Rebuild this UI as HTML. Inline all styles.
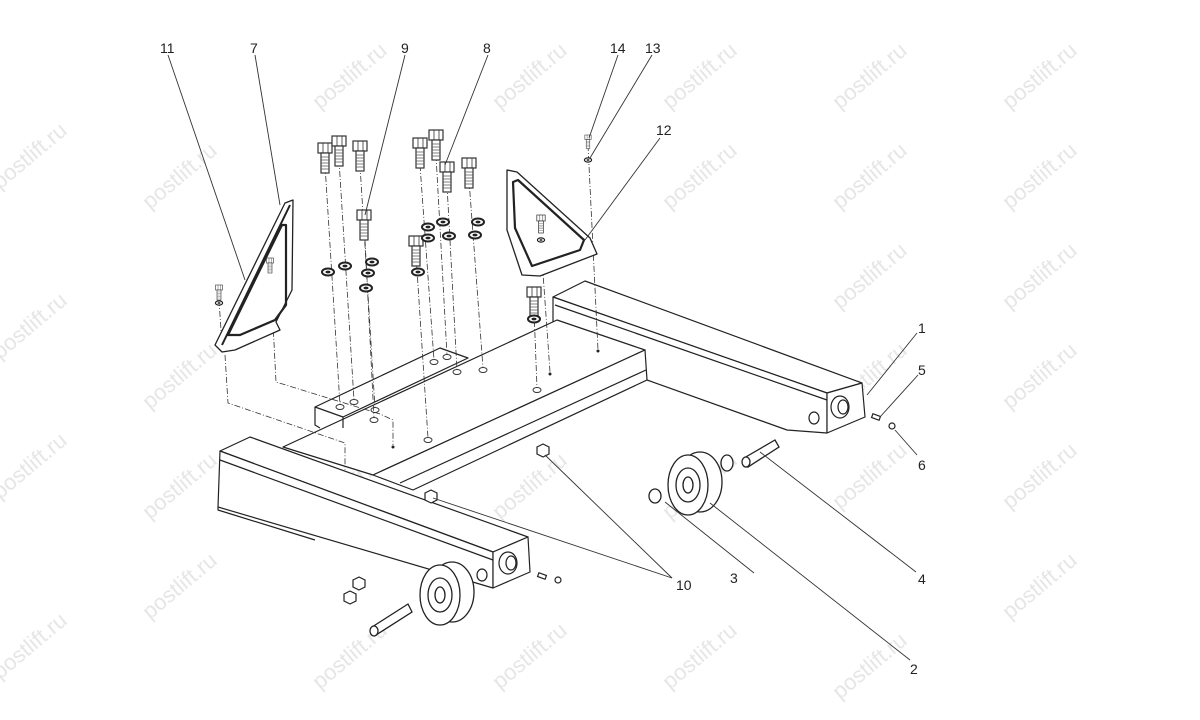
<!DOCTYPE html>
<html><head><meta charset="utf-8"><style>
html,body{margin:0;padding:0;background:#fff;width:1200px;height:720px;overflow:hidden}
svg{display:block}
text{font-family:"Liberation Sans",sans-serif}
</style></head><body>
<svg width="1200" height="720" viewBox="0 0 1200 720" xmlns="http://www.w3.org/2000/svg">
<defs>
<g id="bolt"><rect x="-7" y="0" width="14" height="10" fill="#fff" stroke="#333" stroke-width="1.2"/><line x1="-2" y1="0" x2="-2" y2="10" stroke="#333" stroke-width="0.8"/><line x1="3" y1="0" x2="3" y2="10" stroke="#333" stroke-width="0.8"/><rect x="-4" y="10" width="8" height="20" fill="#fff" stroke="#333" stroke-width="1.2"/><path d="M-4 14h8M-4 17h8M-4 20h8M-4 23h8M-4 26h8" stroke="#555" stroke-width="0.7"/></g>
<g id="wash"><ellipse cx="0" cy="0" rx="6" ry="3.5" fill="#fff" stroke="#222" stroke-width="2"/><ellipse cx="0" cy="0" rx="2.5" ry="1.4" fill="#222"/></g>
<g id="hole"><ellipse cx="0" cy="0" rx="4" ry="2.5" fill="none" stroke="#333" stroke-width="1"/></g>
</defs>
<g fill="#e6e6e6" font-size="22" font-family="Liberation Sans,sans-serif">
<text transform="translate(0,190) rotate(-40)">postlift.ru</text>
<text transform="translate(150,210) rotate(-40)">postlift.ru</text>
<text transform="translate(320,110) rotate(-40)">postlift.ru</text>
<text transform="translate(500,110) rotate(-40)">postlift.ru</text>
<text transform="translate(670,110) rotate(-40)">postlift.ru</text>
<text transform="translate(840,110) rotate(-40)">postlift.ru</text>
<text transform="translate(1010,110) rotate(-40)">postlift.ru</text>
<text transform="translate(670,210) rotate(-40)">postlift.ru</text>
<text transform="translate(840,210) rotate(-40)">postlift.ru</text>
<text transform="translate(1010,210) rotate(-40)">postlift.ru</text>
<text transform="translate(0,360) rotate(-40)">postlift.ru</text>
<text transform="translate(150,410) rotate(-40)">postlift.ru</text>
<text transform="translate(840,310) rotate(-40)">postlift.ru</text>
<text transform="translate(1010,310) rotate(-40)">postlift.ru</text>
<text transform="translate(840,410) rotate(-40)">postlift.ru</text>
<text transform="translate(1010,410) rotate(-40)">postlift.ru</text>
<text transform="translate(0,500) rotate(-40)">postlift.ru</text>
<text transform="translate(150,520) rotate(-40)">postlift.ru</text>
<text transform="translate(320,520) rotate(-40)">postlift.ru</text>
<text transform="translate(500,520) rotate(-40)">postlift.ru</text>
<text transform="translate(670,520) rotate(-40)">postlift.ru</text>
<text transform="translate(840,510) rotate(-40)">postlift.ru</text>
<text transform="translate(1010,510) rotate(-40)">postlift.ru</text>
<text transform="translate(0,680) rotate(-40)">postlift.ru</text>
<text transform="translate(150,620) rotate(-40)">postlift.ru</text>
<text transform="translate(320,690) rotate(-40)">postlift.ru</text>
<text transform="translate(500,690) rotate(-40)">postlift.ru</text>
<text transform="translate(670,690) rotate(-40)">postlift.ru</text>
<text transform="translate(840,700) rotate(-40)">postlift.ru</text>
<text transform="translate(1010,620) rotate(-40)">postlift.ru</text>
</g>
<g fill="none" stroke="#222" stroke-width="1.2" stroke-linejoin="round">
<polygon points="553,297 585,281 862,383 827,393" fill="#fff"/>
<polygon points="553,297 827,393 827,433 787,430 647,380 553,345" fill="#fff"/>
<polygon points="827,393 862,383 865,417 827,433" fill="#fff"/>
<line x1="555" y1="305" x2="827" y2="400"/>
<ellipse cx="840" cy="407" rx="9" ry="11" fill="#fff"/><ellipse cx="843" cy="407" rx="5" ry="7"/>
<ellipse cx="814" cy="418" rx="5" ry="6"/>
<polygon points="283,447 557,320 645,350 373,475" fill="#fff"/>
<polygon points="373,475 645,350 647,380 413,490" fill="#fff"/>
<line x1="400" y1="483" x2="646" y2="370"/>
<polygon points="315,407 440,348 468,358 343,417" fill="#fff"/>
<polyline points="315,407 315,425 320,428"/>
<line x1="343" y1="417" x2="343" y2="428"/>
<polygon points="220,451 250,437 528,537 493,552" fill="#fff"/>
<polygon points="220,451 493,552 493,588 218,507" fill="#fff"/>
<polygon points="493,552 528,537 530,572 493,588" fill="#fff"/>
<line x1="220" y1="460" x2="493" y2="560"/>
<polyline points="218,507 218,510 315,540"/>
<ellipse cx="508" cy="563" rx="9" ry="11" fill="#fff"/><ellipse cx="511" cy="563" rx="5" ry="7"/>
<ellipse cx="482" cy="575" rx="5" ry="6"/>
</g>
<g>
<use href="#hole" x="340" y="407"/><use href="#hole" x="354" y="402"/><use href="#hole" x="375" y="410"/><use href="#hole" x="374" y="420"/>
<use href="#hole" x="434" y="362"/><use href="#hole" x="447" y="357"/><use href="#hole" x="457" y="372"/><use href="#hole" x="483" y="370"/>
<use href="#hole" x="537" y="390"/><use href="#hole" x="428" y="440"/>
<circle cx="393" cy="447" r="1.5" fill="#222"/><circle cx="550" cy="374" r="1.5" fill="#222"/><circle cx="598" cy="351" r="1.5" fill="#222"/>
</g>
<g stroke="#333" stroke-width="0.8" stroke-dasharray="6,2,1,2" fill="none">
<line x1="325" y1="165" x2="340" y2="405"/><line x1="339" y1="160" x2="354" y2="400"/><line x1="360" y1="165" x2="375" y2="408"/><line x1="365" y1="240" x2="374" y2="418"/>
<line x1="420" y1="165" x2="434" y2="360"/><line x1="436" y1="155" x2="447" y2="355"/><line x1="447" y1="185" x2="457" y2="370"/><line x1="469" y1="180" x2="483" y2="368"/>
<line x1="416" y1="255" x2="428" y2="438"/><line x1="534" y1="310" x2="537" y2="388"/><line x1="588" y1="145" x2="598" y2="350"/>
<polyline points="270,265 276,382 380,414 393,420 393,445"/>
<polyline points="225,355 228,403 345,443 345,470"/>
<line x1="219" y1="300" x2="222" y2="345"/>
<line x1="541" y1="245" x2="550" y2="372"/>
</g>
<g fill="#fff" stroke="#222" stroke-width="1.3" stroke-linejoin="round">
<polygon points="215,345 285,203 293,200 292,290 276,322 280,330 235,350 222,352"/>
<line x1="222" y1="345" x2="290" y2="205" stroke-width="2"/>
<path d="M228 335 L282 225 L286 225 L286 305 L275 320 L240 335 Z" fill="none" stroke-width="2.2"/>
<polygon points="507,170 517,172 590,238 597,254 540,276 522,275 507,230"/>
<path d="M513 182 L515 228 L532 266 L580 250 L584 240 L518 180 Z" fill="none" stroke-width="2.2"/>
</g>
<g>
<use href="#bolt" x="325" y="143"/><use href="#bolt" x="339" y="136"/><use href="#bolt" x="360" y="141"/>
<use href="#bolt" x="420" y="138"/><use href="#bolt" x="436" y="130"/><use href="#bolt" x="447" y="162"/><use href="#bolt" x="469" y="158"/>
<use href="#bolt" x="416" y="236"/><use href="#bolt" x="364" y="210"/><use href="#bolt" x="534" y="287"/>
<g transform="translate(219,285) scale(0.5)"><use href="#bolt"/></g>
<g transform="translate(270,258) scale(0.5)"><use href="#bolt"/></g>
<g transform="translate(541,215) scale(0.6)"><use href="#bolt"/></g>
<g transform="translate(588,135) scale(0.45)"><use href="#bolt"/></g>
</g>
<g>
<use href="#wash" x="428" y="227"/><use href="#wash" x="443" y="222"/><use href="#wash" x="478" y="222"/>
<use href="#wash" x="428" y="238"/><use href="#wash" x="449" y="236"/><use href="#wash" x="475" y="235"/>
<use href="#wash" x="328" y="272"/><use href="#wash" x="345" y="266"/><use href="#wash" x="368" y="273"/><use href="#wash" x="372" y="262"/>
<use href="#wash" x="366" y="288"/><use href="#wash" x="418" y="272"/><use href="#wash" x="534" y="319"/>
<g transform="translate(219,303) scale(0.6)"><use href="#wash"/></g>
<g transform="translate(588,160) scale(0.6)"><use href="#wash"/></g>
<g transform="translate(541,240) scale(0.6)"><use href="#wash"/></g>
</g>
<g fill="#fff" stroke="#222" stroke-width="1.2">
<polygon points="537,447 543,444 549,447 549,454 543,457 537,454"/>
<polygon points="425,493 431,490 437,493 437,500 431,503 425,500"/>
<polygon points="353,580 359,577 365,580 365,587 359,590 353,587"/>
<polygon points="344,594 350,591 356,594 356,601 350,604 344,601"/>
<circle cx="892" cy="426" r="3"/><circle cx="558" cy="580" r="3"/>
<rect x="872" y="415" width="8" height="4" transform="rotate(20 876 417)"/>
<rect x="538" y="574" width="8" height="4" transform="rotate(20 542 576)"/>
</g>
<g fill="#fff" stroke="#222" stroke-width="1.3">
<ellipse cx="700" cy="482" rx="22" ry="30"/><ellipse cx="688" cy="485" rx="20" ry="30"/><ellipse cx="688" cy="485" rx="12" ry="17"/><ellipse cx="688" cy="485" rx="5" ry="8"/>
<ellipse cx="655" cy="496" rx="6" ry="7"/><ellipse cx="727" cy="463" rx="6" ry="8"/>
<path d="M744 458 L775 440 L779 447 L748 467 Z"/><ellipse cx="746" cy="462" rx="4" ry="5"/>
<ellipse cx="452" cy="592" rx="22" ry="30"/><ellipse cx="440" cy="595" rx="20" ry="30"/><ellipse cx="440" cy="595" rx="12" ry="17"/><ellipse cx="440" cy="595" rx="5" ry="8"/>
<path d="M372 627 L408 604 L412 612 L376 635 Z"/><ellipse cx="374" cy="631" rx="4" ry="5"/>
</g>
<g stroke="#333" stroke-width="0.9">
<line x1="168" y1="55" x2="245" y2="280"/><line x1="255" y1="55" x2="280" y2="205"/>
<line x1="405" y1="55" x2="365" y2="215"/><line x1="488" y1="55" x2="445" y2="165"/>
<line x1="618" y1="55" x2="589" y2="138"/><line x1="652" y1="55" x2="590" y2="158"/>
<line x1="660" y1="138" x2="585" y2="240"/>
<line x1="917" y1="333" x2="867" y2="395"/><line x1="918" y1="375" x2="880" y2="417"/><line x1="917" y1="455" x2="895" y2="430"/>
<line x1="916" y1="572" x2="760" y2="452"/><line x1="754" y1="573" x2="665" y2="502"/><line x1="910" y1="660" x2="710" y2="503"/>
<line x1="672" y1="578" x2="545" y2="455"/><line x1="672" y1="578" x2="433" y2="498"/>
</g>
<g font-size="14" fill="#222">
<text x="160" y="53">11</text><text x="250" y="53">7</text><text x="401" y="53">9</text><text x="483" y="53">8</text>
<text x="610" y="53">14</text><text x="645" y="53">13</text><text x="656" y="135">12</text>
<text x="918" y="333">1</text><text x="918" y="375">5</text><text x="918" y="470">6</text>
<text x="918" y="584">4</text><text x="730" y="583">3</text><text x="676" y="590">10</text><text x="910" y="674">2</text>
</g>
</svg>
</body></html>
